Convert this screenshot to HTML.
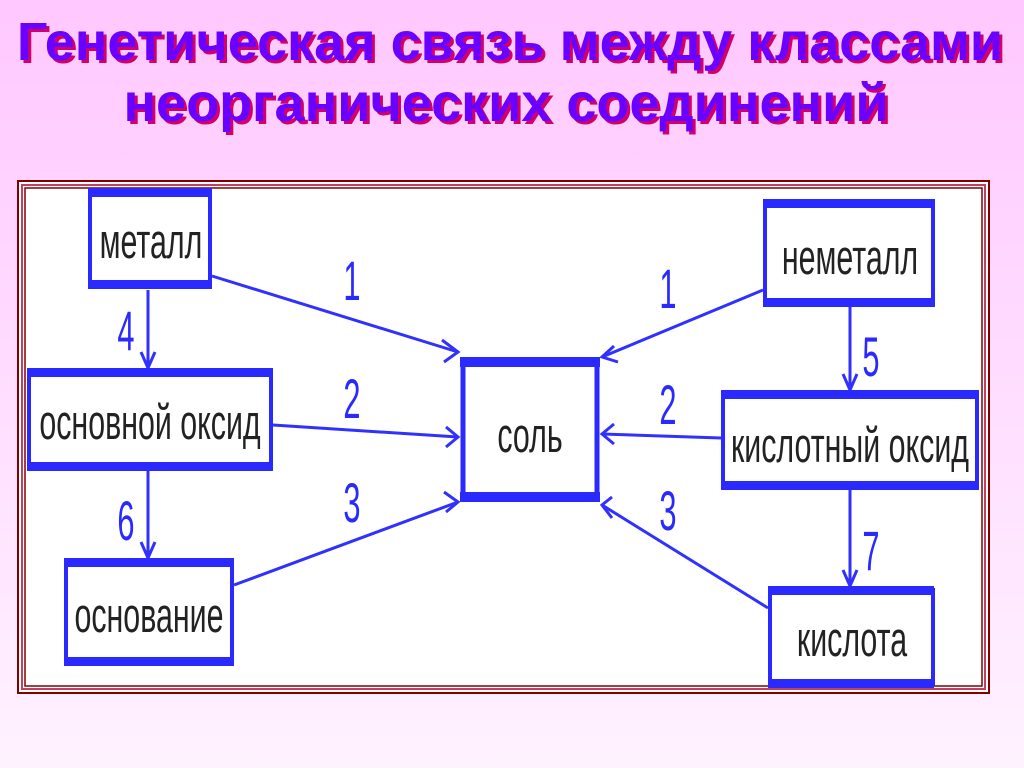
<!DOCTYPE html>
<html><head><meta charset="utf-8"><style>
html,body{margin:0;padding:0;}
body{width:1024px;height:768px;overflow:hidden;background:linear-gradient(#ffc8ff,#fff2ff);position:relative;font-family:"Liberation Sans",sans-serif;}
.t{position:absolute;left:0;width:1024px;text-align:center;font-weight:bold;font-size:54px;line-height:60px;color:#6a00ff;text-shadow:3px 3px 0 #d4006a;}
</style></head><body>
<div class="t" style="top:12px;left:-2px;">Генетическая связь между классами</div>
<div class="t" style="top:73px;left:-6px;">неорганических соединений</div>
<svg width="1024" height="768" style="position:absolute;left:0;top:0" font-family="Liberation Sans Narrow, Liberation Sans, sans-serif">
<rect x="18" y="181" width="971" height="512" fill="#fff" stroke="#800000" stroke-width="2"/>
<rect x="22" y="185" width="963" height="504" fill="none" stroke="#c04060" stroke-width="2"/>
<rect x="25" y="188" width="957" height="498" fill="#fff" stroke="#800000" stroke-width="1.5"/>
<g stroke="#3030ff" stroke-width="3" fill="none">
<line x1="212" y1="276" x2="458" y2="352"/>
<line x1="273" y1="425" x2="458" y2="437"/>
<line x1="234" y1="585" x2="458" y2="502"/>
<line x1="763" y1="290" x2="602" y2="357"/>
<line x1="721" y1="438" x2="602" y2="434"/>
<line x1="768" y1="608" x2="602" y2="505"/>
<line x1="148" y1="290" x2="148" y2="368"/>
<line x1="148" y1="470" x2="148" y2="558"/>
<line x1="850" y1="306" x2="850" y2="390"/>
<line x1="850" y1="489" x2="850" y2="586"/>
<polyline points="442,340 458,352 444,362"/>
<polyline points="446,427 458,437 446,447"/>
<polyline points="444,492 458,502 446,512"/>
<polyline points="614,346 602,357 618,362"/>
<polyline points="614,424 602,434 614,444"/>
<polyline points="612,497 602,505 612,518"/>
<polyline points="141,352 148,368 155,352"/>
<polyline points="141,542 148,558 155,542"/>
<polyline points="843,374 850,390 857,374"/>
<polyline points="843,570 850,586 857,570"/>
</g>
<g fill="#fff" stroke="#2a2aff">
<rect x="90" y="192" width="120" height="93" stroke-width="4"/>
<rect x="29" y="372" width="242" height="95" stroke-width="4"/>
<rect x="66" y="562" width="166" height="101" stroke-width="4"/>
<rect x="463" y="361" width="134" height="137" stroke-width="5"/>
<rect x="765" y="203" width="168" height="100" stroke-width="4"/>
<rect x="723" y="394" width="254" height="92" stroke-width="4"/>
<rect x="770" y="590" width="163" height="94" stroke-width="4"/>
</g>
<g fill="#2a2aff">
<rect x="88" y="188" width="124" height="9"/><rect x="88" y="280" width="124" height="9"/>
<rect x="27" y="368" width="246" height="9"/><rect x="27" y="462" width="246" height="9"/>
<rect x="64" y="558" width="170" height="9"/><rect x="64" y="657" width="170" height="9"/>
<rect x="460" y="357" width="140" height="10"/><rect x="460" y="492" width="140" height="10"/>
<rect x="763" y="199" width="172" height="9"/><rect x="763" y="298" width="172" height="9"/>
<rect x="721" y="390" width="258" height="9"/><rect x="721" y="481" width="258" height="9"/>
<rect x="768" y="586" width="166" height="9"/><rect x="768" y="679" width="166" height="9"/>
</g>
<g fill="#222" font-size="49" text-anchor="middle">
<text x="151" y="258" transform="translate(151 0) scale(0.62 1) translate(-151 0)">металл</text>
<text x="150" y="439" transform="translate(150 0) scale(0.62 1) translate(-150 0)">основной оксид</text>
<text x="149" y="632" transform="translate(149 0) scale(0.62 1) translate(-149 0)">основание</text>
<text x="530" y="452" transform="translate(530 0) scale(0.62 1) translate(-530 0)">соль</text>
<text x="850" y="274" transform="translate(850 0) scale(0.62 1) translate(-850 0)">неметалл</text>
<text x="850" y="462" transform="translate(850 0) scale(0.62 1) translate(-850 0)">кислотный оксид</text>
<text x="852" y="656" transform="translate(852 0) scale(0.62 1) translate(-852 0)">кислота</text>
</g>
<g fill="#2a2aff" font-size="56" text-anchor="middle">
<text x="352" y="300" transform="translate(352 0) scale(0.55 1) translate(-352 0)">1</text>
<text x="352" y="418" transform="translate(352 0) scale(0.55 1) translate(-352 0)">2</text>
<text x="352" y="522" transform="translate(352 0) scale(0.55 1) translate(-352 0)">3</text>
<text x="668" y="308" transform="translate(668 0) scale(0.55 1) translate(-668 0)">1</text>
<text x="668" y="424" transform="translate(668 0) scale(0.55 1) translate(-668 0)">2</text>
<text x="668" y="530" transform="translate(668 0) scale(0.55 1) translate(-668 0)">3</text>
<text x="126" y="350" transform="translate(126 0) scale(0.55 1) translate(-126 0)">4</text>
<text x="126" y="540" transform="translate(126 0) scale(0.55 1) translate(-126 0)">6</text>
<text x="871" y="376" transform="translate(871 0) scale(0.55 1) translate(-871 0)">5</text>
<text x="871" y="570" transform="translate(871 0) scale(0.55 1) translate(-871 0)">7</text>
</g>
</svg>
</body></html>
